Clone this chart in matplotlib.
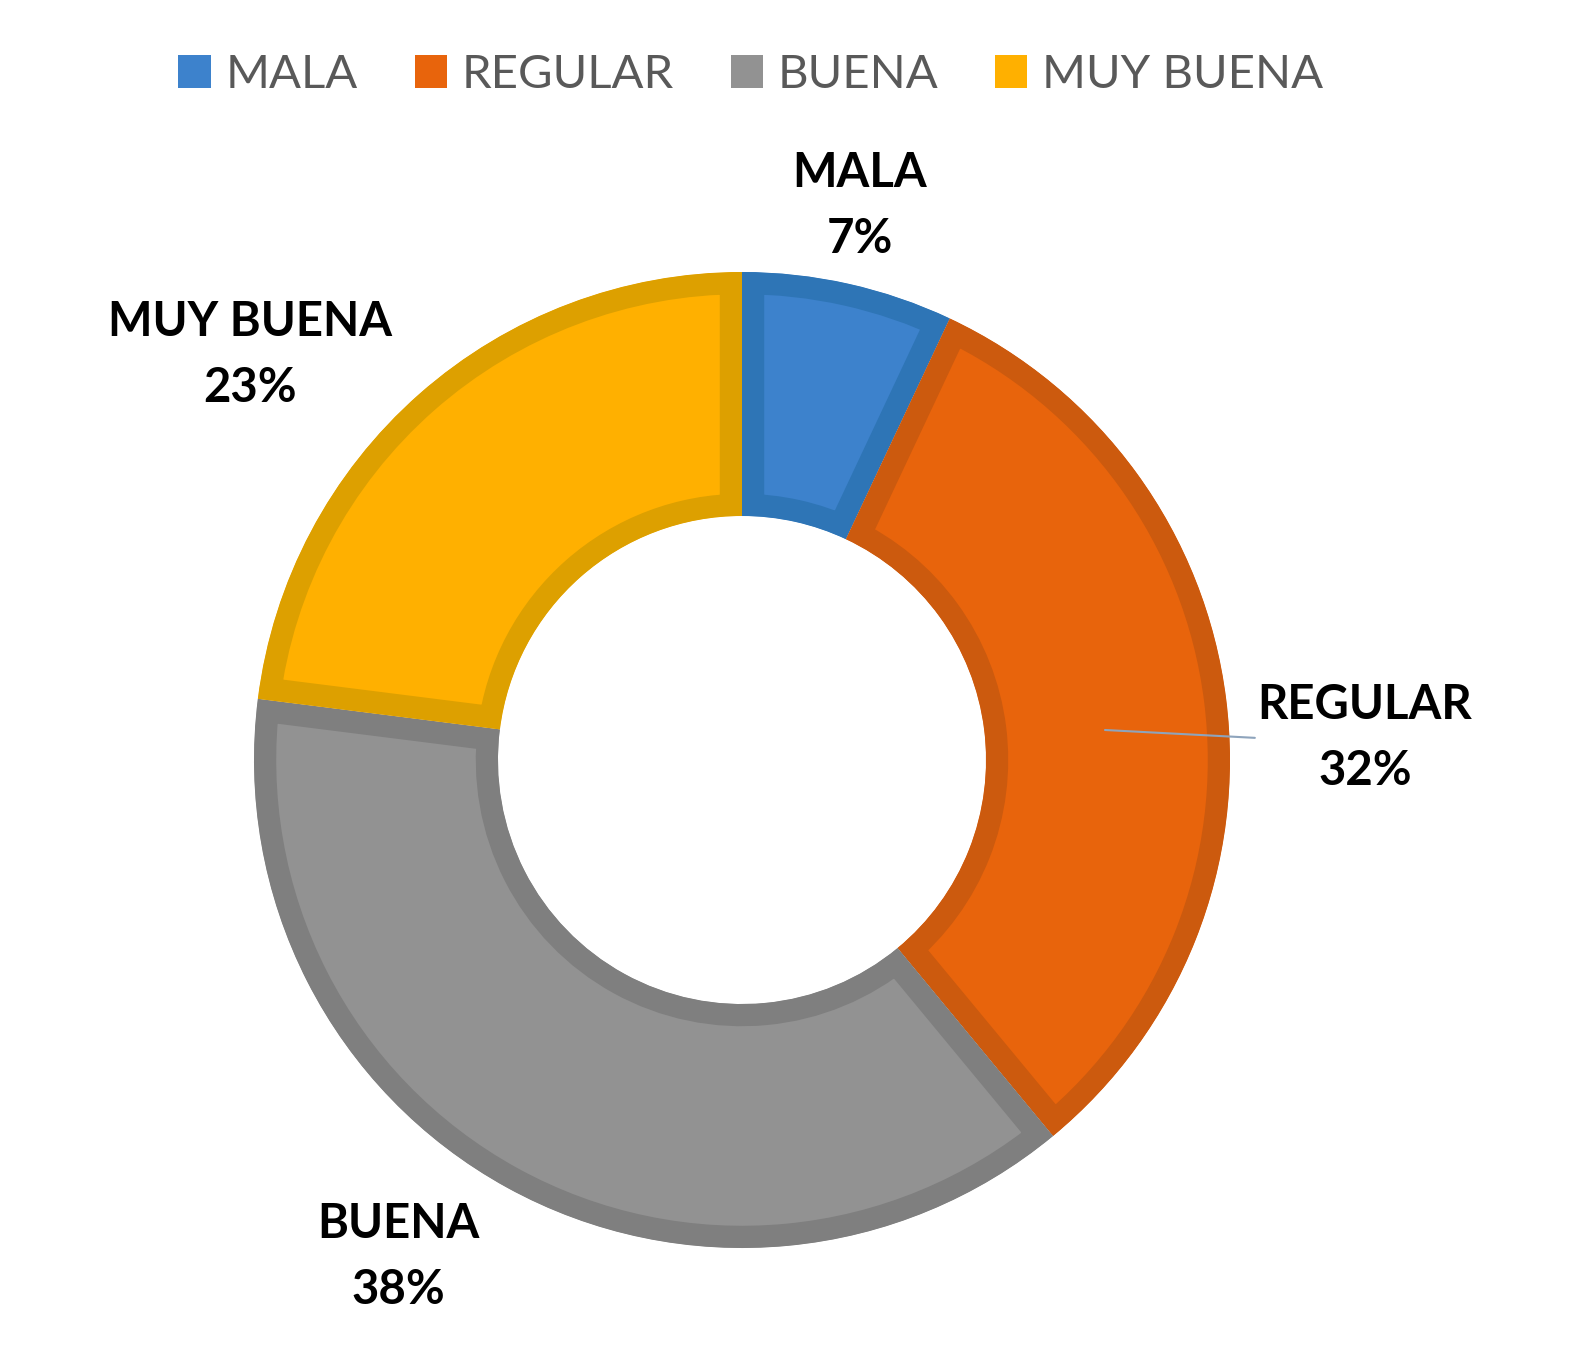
import matplotlib.pyplot as plt

categories = ['MALA', 'REGULAR', 'BUENA', 'MUY BUENA']
values = [7, 32, 38, 23]
fill_colors = ['#3d82cc', '#e8640c', '#929292', '#ffb000']
edge_colors = ['#2e75b6', '#cc5a0e', '#7f7f7f', '#dda000']

W, H = 1575, 1362
fig = plt.figure(figsize=(W / 100, H / 100), dpi=100)
ax = fig.add_axes([0, 0, 1, 1])

cx, cy = 742, H - 760
R = 488
wedges, _ = ax.pie(values, radius=R, center=(cx, cy), startangle=90,
                   counterclock=False, colors=fill_colors,
                   wedgeprops=dict(width=R / 2))
ax.set_xlim(0, W)
ax.set_ylim(0, H)
ax.set_aspect('equal')
ax.axis('off')

# thick inner border like the original (clip stroke to the wedge itself)
for w, ec in zip(wedges, edge_colors):
	w.set_edgecolor(ec)
	w.set_linewidth(32)
	w.set_joinstyle('miter')
	w.set_clip_path(w)
	w.set_clip_on(True)

font = 'Lato'
lab = dict(fontsize=34, fontweight='bold', color='black', family=font,
           ha='center', va='center', linespacing=1.6)
ax.text(860, H - 206, 'MALA\n7%', **lab)
ax.text(250, H - 355, 'MUY BUENA\n23%', **lab)
ax.text(398, H - 1257, 'BUENA\n38%', **lab)
ax.annotate('REGULAR\n32%', xy=(1105, H - 730), xytext=(1365, H - 738),
            arrowprops=dict(arrowstyle='-', color='#8ea4bc', lw=1.5,
                            shrinkA=0, shrinkB=0, relpos=(0, 0.5)),
            **lab)

leg = fig.legend(wedges, categories, loc='center', ncol=4,
                 bbox_to_anchor=(751 / W, 1 - 75 / H), frameon=False,
                 prop=dict(family=font, size=34), labelcolor='#595959',
                 handlelength=0.68, handleheight=0.68, handletextpad=0.32,
                 columnspacing=1.2)
for h in leg.legend_handles:
	h.set_linewidth(0)

fig.savefig('out.png', dpi=100)
